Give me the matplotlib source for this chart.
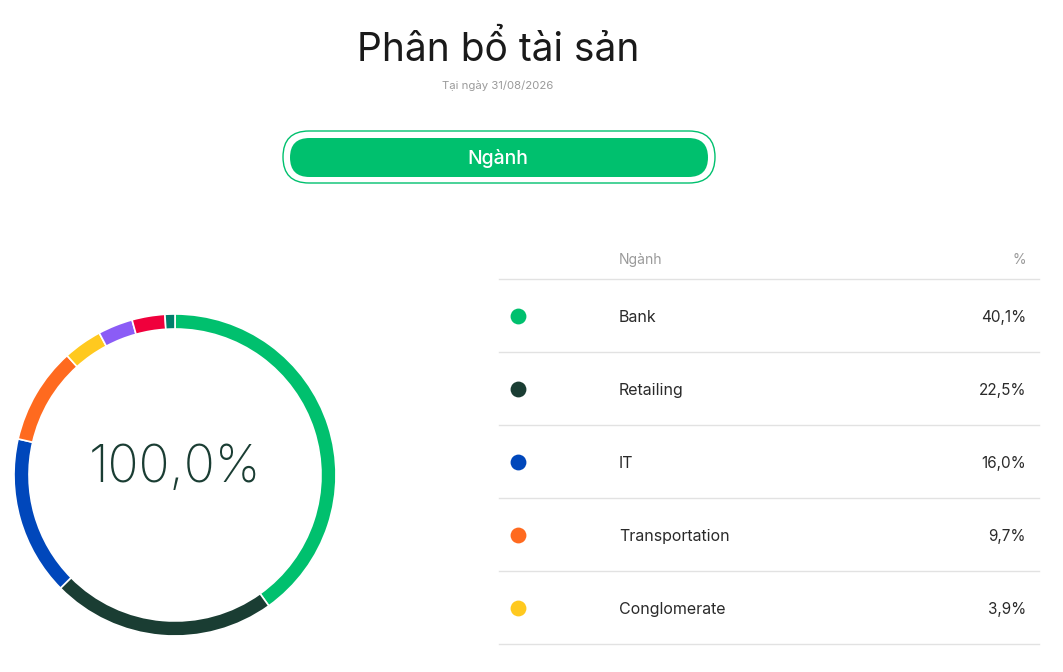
import matplotlib
matplotlib.use("Agg")
import matplotlib.pyplot as plt
from matplotlib.patches import FancyBboxPatch

plt.rcParams['font.family'] = ['Inter', 'DejaVu Sans']

# du lieu
title = "Phân bổ tài sản"
subtitle = "Tại ngày 31/08/2026"
tab_label = "Ngành"
header_name = "Ngành"
header_pct = "%"
total_label = "100,0%"

sectors = ["Bank", "Retailing", "IT", "Transportation", "Conglomerate"]
sector_pct = [40.1, 22.5, 16.0, 9.7, 3.9]
# cac nhom con lai chi thay tren vong tron (khong co trong bang)
other_pct = [3.5, 3.3, 1.0]

colors = ["#00C06E", "#1A3D33", "#0047BB", "#FF6A1F", "#FFC91F",
          "#8B5CF6", "#F0003C", "#007F6B"]

W, H = 1063, 672
fig = plt.figure(figsize=(W / 100, H / 100), dpi=100)
fig.patch.set_facecolor("white")

# lop nen theo toa do pixel
bg = fig.add_axes([0, 0, 1, 1])
bg.set_xlim(0, W)
bg.set_ylim(H, 0)
bg.axis("off")

bg.text(498, 50, title, ha="center", va="center", fontsize=28, color="#1A1A1A")
bg.text(498, 86, subtitle, ha="center", va="center", fontsize=8.2, color="#9A9A9A")


def pill(x0, x1, y0, y1, **kw):
    r = (y1 - y0) / 2
    # hop co chieu cao 0, pad = ban kinh -> hinh vien thuoc
    return FancyBboxPatch((x0 + r, y0 + r), (x1 - x0) - 2 * r, 0,
                          boxstyle=f"round,pad={r},rounding_size={r}", **kw)


bg.add_patch(pill(283, 715, 131, 183, facecolor="white", edgecolor="#00C06E", linewidth=1.0))
bg.add_patch(pill(290, 708, 138, 177, facecolor="#00C06E", edgecolor="none"))
bg.text(498, 159, tab_label, ha="center", va="center", fontsize=14, color="white", fontweight="medium")

# bang
line_ys = [279, 352, 425, 498, 571, 644]
bg.text(619, 260, header_name, ha="left", va="center", fontsize=10, color="#9A9A9A")
bg.text(1026, 260, header_pct, ha="right", va="center", fontsize=10, color="#9A9A9A")
for y in line_ys:
    bg.plot([499, 1039], [y, y], color="#E2E2E2", linewidth=1)
for i, (name, pct) in enumerate(zip(sectors, sector_pct)):
    y = 316 + 73 * i
    bg.scatter([518], [y], s=130, color=colors[i], linewidths=0)
    bg.text(619, y + 1.5, name, ha="left", va="center", fontsize=11.5, color="#2A2A2A")
    bg.text(1026, y + 1.5, f"{pct:.1f}%".replace(".", ","), ha="right", va="center",
            fontsize=11, color="#2A2A2A")

# vong tron
ax = fig.add_axes([14 / W, (H - 636) / H, 322 / W, 322 / H])
ax.pie(sector_pct + other_pct, colors=colors, startangle=90, counterclock=False,
       radius=1, wedgeprops=dict(width=15 / 161, edgecolor="white", linewidth=1.2))
ax.set_xlim(-1, 1)
ax.set_ylim(-1, 1)
ax.text(0, 0.04, total_label, ha="center", va="center", fontsize=37, color="#1A3D33",
        fontweight="light")

fig.savefig("out.png", dpi=100)
